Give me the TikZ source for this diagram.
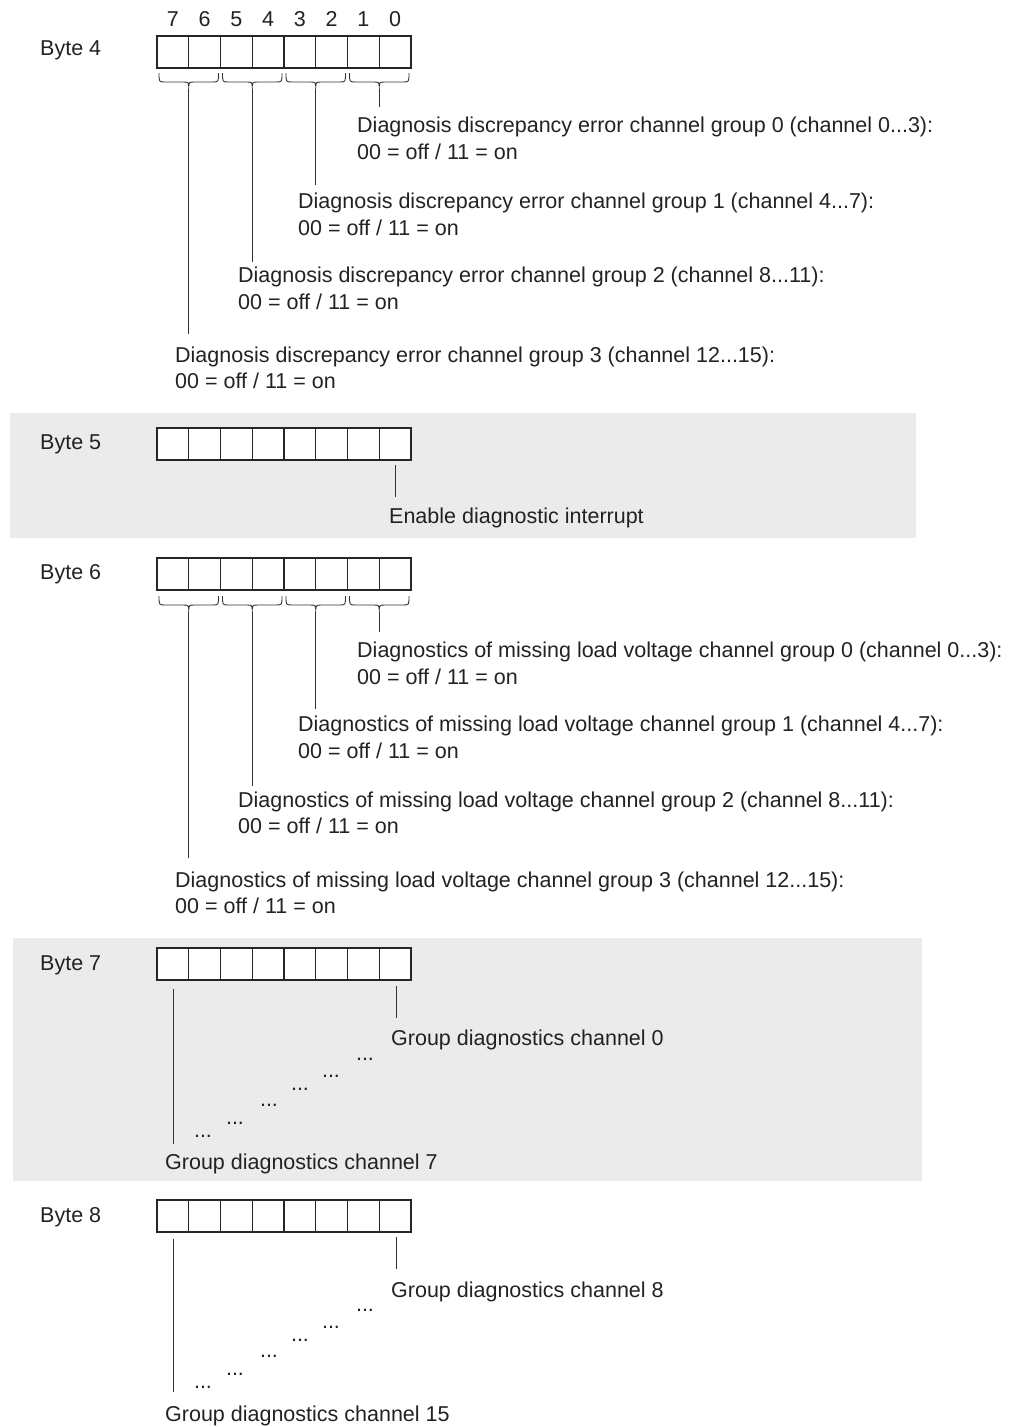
\documentclass[tikz,border=0pt]{standalone}
\usepackage{fontspec}
\setmainfont{Liberation Sans}
\definecolor{txt}{HTML}{222222}
\definecolor{band}{HTML}{EBEBEB}
\tikzset{
  cell/.style={draw=black!85, fill=white, line width=1.4pt, minimum width=31.75pt, minimum height=32pt, inner sep=0pt},
  lbl/.style={anchor=base west, inner sep=0pt, text=txt, font=\fontsize{21.5}{25}\selectfont},
  dig/.style={anchor=base, inner sep=0pt, text=txt, font=\fontsize{21.5}{25}\selectfont},
  conn/.style={draw=black!80, line width=0.9pt},
  bracepath/.style={draw=black!80, line width=0.9pt},
}
\newcommand\mkbyte[3]{% name, top y, label baseline
  \foreach \k in {0,...,7} {
    \pgfmathtruncatemacro\bitno{7-\k}
    \node[cell] (#1c\bitno) at ({157+31.75*\k+15.875},{#2+16}) {};
  }
}
\newcommand\mkbrace[5]{% name, left x, right x, top y, horizontal y ; tip = hy+6
  \pgfmathsetmacro\cc{(#2+#3)/2}
  \draw[bracepath] (#2,#4) .. controls (#2,#5) .. (#2+6,#5) -- (\cc-6,#5)
     .. controls (\cc,#5) .. (\cc,#5+7) .. controls (\cc,#5) .. (\cc+6,#5)
     -- (#3-6,#5) .. controls (#3,#5) .. (#3,#4);
  \coordinate (#1) at (\cc,#5+7);
}
\begin{document}
\begin{tikzpicture}[x=1pt,y=-1pt]
\useasboundingbox (0,0) rectangle (1014,1427);
% grey bands
\fill[band] (10,413) rectangle (916,538);
\fill[band] (13,938) rectangle (922,1181);

% ---------- Byte 4 ----------
\node[lbl] (l4) at (40,55) {Byte 4};
\mkbyte{b4}{36}{55}
\foreach \k in {0,...,7} {
  \pgfmathtruncatemacro\bitno{7-\k}
  \node[dig] (d\bitno) at ({157+31.75*\k+15.875},26) {\bitno};
}
\mkbrace{t4a}{159}{218.5}{73}{82}
\mkbrace{t4b}{222.5}{282}{73}{82}
\mkbrace{t4c}{286}{345.5}{73}{82}
\mkbrace{t4d}{349.5}{409}{73}{82}
\node[lbl] (g40a) at (357,132) {Diagnosis discrepancy error channel group 0 (channel 0...3):};
\node[lbl] (g40b) at (357,159) {00 = off / 11 = on};
\node[lbl] (g41a) at (298,208) {Diagnosis discrepancy error channel group 1 (channel 4...7):};
\node[lbl] (g41b) at (298,235) {00 = off / 11 = on};
\node[lbl] (g42a) at (238,282) {Diagnosis discrepancy error channel group 2 (channel 8...11):};
\node[lbl] (g42b) at (238,309) {00 = off / 11 = on};
\node[lbl] (g43a) at (175,362) {Diagnosis discrepancy error channel group 3 (channel 12...15):};
\node[lbl] (g43b) at (175,388) {00 = off / 11 = on};
\coordinate (e4d) at (379.25,107);
\coordinate (e4c) at (315.75,185);
\coordinate (e4b) at (252.25,262);
\coordinate (e4a) at (188.75,334);
\draw[conn] (t4d) -- (e4d);
\draw[conn] (t4c) -- (e4c);
\draw[conn] (t4b) -- (e4b);
\draw[conn] (t4a) -- (e4a);

% ---------- Byte 5 ----------
\node[lbl] (l5) at (40,449) {Byte 5};
\mkbyte{b5}{428}{449}
\node[lbl] (en) at (389,523) {Enable diagnostic interrupt};
\coordinate (s5) at (395,465);
\coordinate (e5) at (395,497);
\draw[conn] (s5) -- (e5);

% ---------- Byte 6 ----------
\node[lbl] (l6) at (40,579) {Byte 6};
\mkbyte{b6}{558}{579}
\mkbrace{t6a}{159}{218.5}{596}{605}
\mkbrace{t6b}{222.5}{282}{596}{605}
\mkbrace{t6c}{286}{345.5}{596}{605}
\mkbrace{t6d}{349.5}{409}{596}{605}
\node[lbl] (g60a) at (357,657) {Diagnostics of missing load voltage channel group 0 (channel 0...3):};
\node[lbl] (g60b) at (357,684) {00 = off / 11 = on};
\node[lbl] (g61a) at (298,731) {Diagnostics of missing load voltage channel group 1 (channel 4...7):};
\node[lbl] (g61b) at (298,758) {00 = off / 11 = on};
\node[lbl] (g62a) at (238,807) {Diagnostics of missing load voltage channel group 2 (channel 8...11):};
\node[lbl] (g62b) at (238,833) {00 = off / 11 = on};
\node[lbl] (g63a) at (175,887) {Diagnostics of missing load voltage channel group 3 (channel 12...15):};
\node[lbl] (g63b) at (175,913) {00 = off / 11 = on};
\coordinate (e6d) at (379.25,632);
\coordinate (e6c) at (315.75,709);
\coordinate (e6b) at (252.25,786);
\coordinate (e6a) at (188.75,858);
\draw[conn] (t6d) -- (e6d);
\draw[conn] (t6c) -- (e6c);
\draw[conn] (t6b) -- (e6b);
\draw[conn] (t6a) -- (e6a);

% ---------- Byte 7 ----------
\node[lbl] (l7) at (40,970) {Byte 7};
\mkbyte{b7}{948}{970}
\node[lbl] (c0) at (391,1045) {Group diagnostics channel 0};
\node[lbl] (c7) at (165,1169) {Group diagnostics channel 7};
\coordinate (s7r) at (396,986);
\coordinate (e7r) at (396,1018);
\coordinate (s7l) at (173,989);
\coordinate (e7l) at (173,1144);
\draw[conn] (s7r) -- (e7r);
\draw[conn] (s7l) -- (e7l);
\node[dig] (p71) at (365,1060) {...};
\node[dig] (p72) at (331,1077) {...};
\node[dig] (p73) at (300,1090) {...};
\node[dig] (p74) at (269,1106) {...};
\node[dig] (p75) at (235,1124) {...};
\node[dig] (p76) at (203,1137) {...};

% ---------- Byte 8 ----------
\node[lbl] (l8) at (40,1222) {Byte 8};
\mkbyte{b8}{1200}{1222}
\node[lbl] (c8) at (391,1297) {Group diagnostics channel 8};
\node[lbl] (c15) at (165,1421) {Group diagnostics channel 15};
\coordinate (s8r) at (396,1237);
\coordinate (e8r) at (396,1269);
\coordinate (s8l) at (173,1239);
\coordinate (e8l) at (173,1392);
\draw[conn] (s8r) -- (e8r);
\draw[conn] (s8l) -- (e8l);
\node[dig] (p81) at (365,1311) {...};
\node[dig] (p82) at (331,1328) {...};
\node[dig] (p83) at (300,1341) {...};
\node[dig] (p84) at (269,1357) {...};
\node[dig] (p85) at (235,1375) {...};
\node[dig] (p86) at (203,1388) {...};
\end{tikzpicture}
\end{document}
